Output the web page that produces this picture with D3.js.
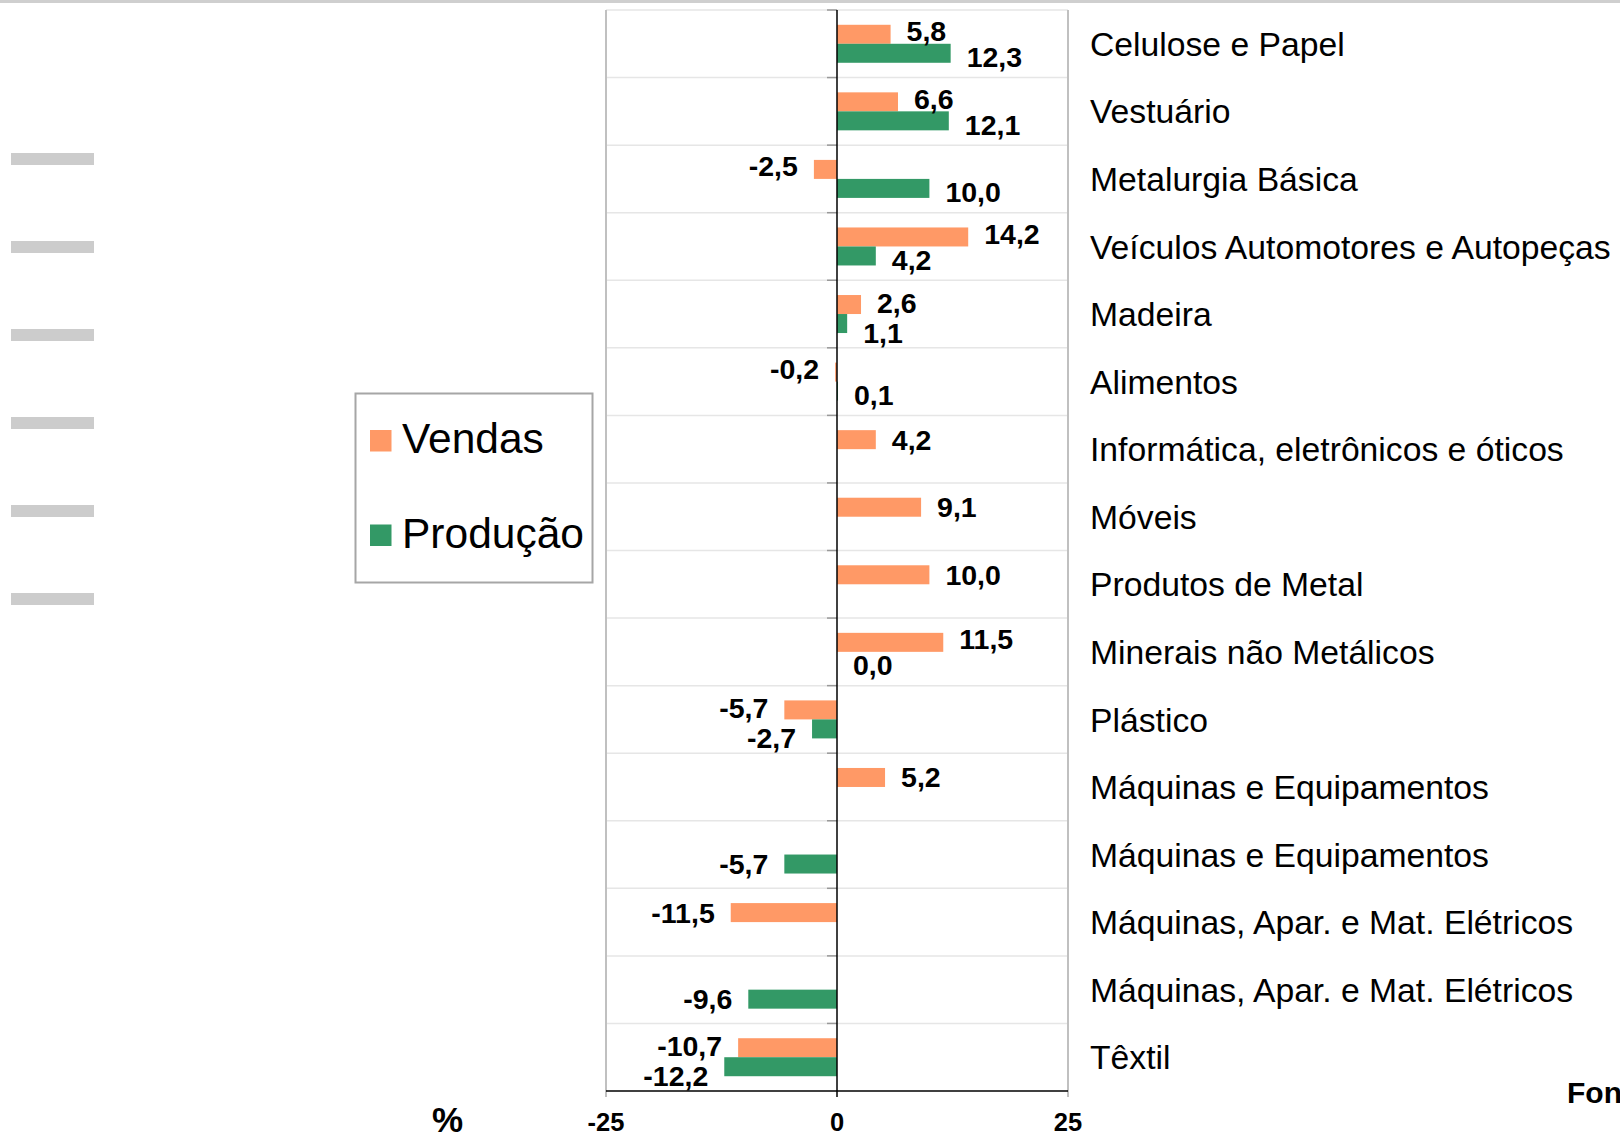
<!DOCTYPE html>
<html>
<head>
<meta charset="utf-8">
<script src="https://cdn.jsdelivr.net/npm/d3@7"></script>
<style>
  body { margin: 0; background: #fff; overflow: hidden; }
  svg { display: block; font-family: "Liberation Sans", Arial, sans-serif; }
</style>
</head>
<body>
<svg id="chart"></svg>
<script>
const width = 1620;
const height = 1135;

const categories = [
    "Celulose e Papel",
    "Vestuário",
    "Metalurgia Básica",
    "Veículos Automotores e Autopeças",
    "Madeira",
    "Alimentos",
    "Informática, eletrônicos e óticos",
    "Móveis",
    "Produtos de Metal",
    "Minerais não Metálicos",
    "Plástico",
    "Máquinas e Equipamentos",
    "Máquinas e Equipamentos",
    "Máquinas, Apar. e Mat. Elétricos",
    "Máquinas, Apar. e Mat. Elétricos",
    "Têxtil"
];
const vendas = [5.8, 6.6, -2.5, 14.2, 2.6, -0.2, 4.2, 9.1, 10.0, 11.5, -5.7, 5.2, null, -11.5, null, -10.7];
const producao = [12.3, 12.1, 10.0, 4.2, 1.1, 0.1, null, null, null, 0.0, -2.7, null, -5.7, null, -9.6, -12.2];
const seriesNames = ["Vendas", "Produção"];
const seriesColors = ["#ff9966", "#339966"];
const xTicks = [-25, 0, 25];

const svg = d3.select("#chart")
    .attr("width", width)
    .attr("height", height);

const x = d3.scaleLinear()
    .domain([-25, 25])
    .range([606, 1068]);

const y = d3.scaleBand()
    .domain(d3.range(categories.length))
    .range([10, 1091]);

const barH = 19;
const locale = d3.formatLocale({ decimal: ",", thousands: ".", grouping: [3], currency: ["", ""], minus: "-" });
const fmt = locale.format(".1f");

// top strip and left decorations from the original slide
svg.append("rect")
    .attr("x", 0).attr("y", 0)
    .attr("width", width).attr("height", 3)
    .attr("fill", "#cfcfcf");

svg.selectAll(".dash")
    .data(d3.range(6))
    .enter()
    .append("rect")
    .attr("x", 11)
    .attr("y", i => 153 + i * 88)
    .attr("width", 83)
    .attr("height", 12)
    .attr("fill", "#cccccc");

// horizontal grid at category boundaries
const bounds = d3.range(categories.length).map(i => y(i));
svg.selectAll(".grid")
    .data(bounds)
    .enter()
    .append("line")
    .attr("x1", x(-25)).attr("x2", x(25))
    .attr("y1", d => d).attr("y2", d => d)
    .attr("stroke", "#e6e6e6")
    .attr("stroke-width", 1.5);

// left and right plot borders
svg.selectAll(".border")
    .data([-25, 25])
    .enter()
    .append("line")
    .attr("x1", d => x(d)).attr("x2", d => x(d))
    .attr("y1", 10).attr("y2", 1097)
    .attr("stroke", "#c0c0c0")
    .attr("stroke-width", 2);

// bars
const bars = [];
categories.forEach((c, i) => {
    const vals = [vendas[i], producao[i]];
    vals.forEach((v, s) => {
        if (v !== null) bars.push({ i, s, v, both: vals.every(d => d !== null) });
    });
});

svg.selectAll(".bar")
    .data(bars)
    .enter()
    .append("rect")
    .attr("x", d => x(Math.min(0, d.v)))
    .attr("y", d => y(d.i) + y.bandwidth() / 2 - barH + d.s * barH)
    .attr("width", d => Math.abs(x(d.v) - x(0)))
    .attr("height", barH)
    .attr("fill", d => seriesColors[d.s]);

// bottom axis
svg.append("line")
    .attr("x1", x(-25)).attr("x2", x(25))
    .attr("y1", 1091).attr("y2", 1091)
    .attr("stroke", "#000")
    .attr("stroke-width", 1.5);

// category ticks at zero line
svg.selectAll(".ytick")
    .data(bounds)
    .enter()
    .append("line")
    .attr("x1", x(0) - 10).attr("x2", x(0))
    .attr("y1", d => d).attr("y2", d => d)
    .attr("stroke", "#999")
    .attr("stroke-width", 1.5);

// zero line
svg.append("line")
    .attr("x1", x(0)).attr("x2", x(0))
    .attr("y1", 10).attr("y2", 1097)
    .attr("stroke", "#000")
    .attr("stroke-width", 1.5);

svg.selectAll(".xlabel")
    .data(xTicks)
    .enter()
    .append("text")
    .attr("x", d => x(d))
    .attr("y", 1131)
    .attr("text-anchor", "middle")
    .attr("font-size", "25.5px")
    .attr("font-weight", "bold")
    .text(d => d);

// value labels
const labels = svg.selectAll(".vlabel")
    .data(bars)
    .enter()
    .append("text")
    .attr("x", d => d.v < 0 ? x(d.v) - 16 : x(d.v) + 16)
    .attr("text-anchor", d => d.v < 0 ? "end" : "start")
    .attr("font-size", "28.5px")
    .attr("font-weight", "bold")
    .text(d => fmt(d.v));

// horizontal extent of each label, to push apart the pairs that collide
labels.each(function (d) {
    const w = this.getComputedTextLength();
    const x0 = d.v < 0 ? x(d.v) - 16 - w : x(d.v) + 16;
    d.x0 = x0;
    d.x1 = x0 + w;
});
bars.forEach(d => {
    const other = bars.find(o => o.i === d.i && o.s !== d.s);
    let nudge = 0;
    if (other) {
        const hit = d.x0 < other.x1 && other.x0 < d.x1;
        nudge = hit ? (d.s === 0 ? -2 : 9) : (d.s === 0 ? -3 : 4);
    }
    d.nudge = nudge;
});
labels.attr("y", d => y(d.i) + y.bandwidth() / 2 - barH / 2 + d.s * barH + 10 + d.nudge);

// category labels
svg.selectAll(".clabel")
    .data(categories)
    .enter()
    .append("text")
    .attr("x", 1090)
    .attr("y", (d, i) => y(i) + y.bandwidth() / 2)
    .attr("dy", "0.36em")
    .attr("font-size", "33.7px")
    .text(d => d);

// legend
const legend = svg.append("g");
legend.append("rect")
    .attr("x", 355.5).attr("y", 393.5)
    .attr("width", 237).attr("height", 189)
    .attr("fill", "#fff")
    .attr("stroke", "#a6a6a6")
    .attr("stroke-width", 2);

const legendItems = legend.selectAll(".legend-item")
    .data(seriesNames)
    .enter()
    .append("g")
    .attr("transform", (d, i) => `translate(370,${430 + i * 94.5})`);

legendItems.append("rect")
    .attr("width", 21.5)
    .attr("height", 21.5)
    .attr("fill", (d, i) => seriesColors[i]);

legendItems.append("text")
    .attr("x", 32)
    .attr("y", 23)
    .attr("font-size", "42.5px")
    .text(d => d);

svg.append("text")
    .attr("x", 432)
    .attr("y", 1132)
    .attr("font-size", "35px")
    .attr("font-weight", "bold")
    .text("%");

svg.append("text")
    .attr("x", 1567)
    .attr("y", 1103)
    .attr("font-size", "30px")
    .attr("font-weight", "bold")
    .text("Fonte:");
</script>
</body>
</html>
